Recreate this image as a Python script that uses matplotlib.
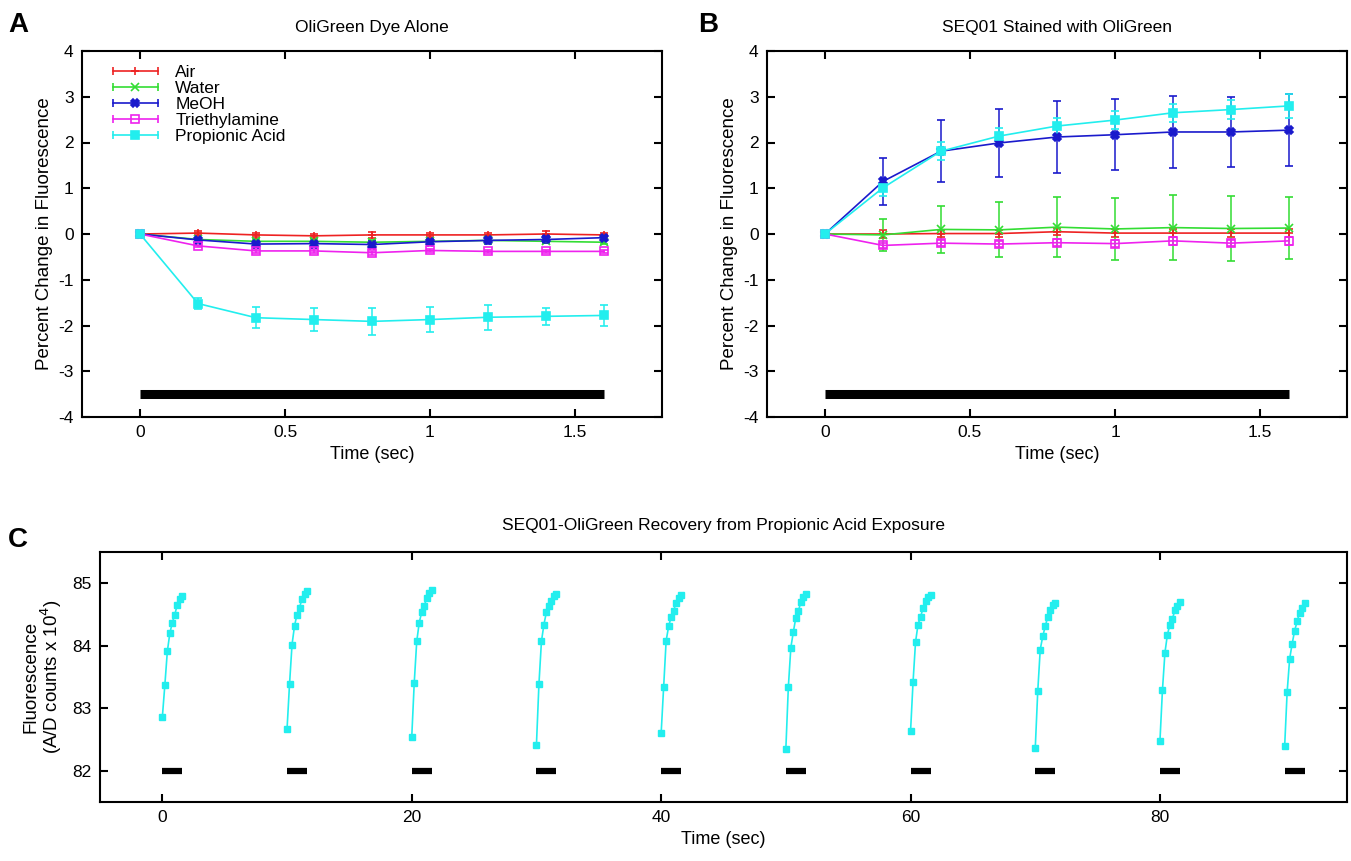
import numpy as np
import matplotlib
matplotlib.use("Agg")
import matplotlib.pyplot as plt
from matplotlib.lines import Line2D
from matplotlib.legend_handler import HandlerLine2D, HandlerTuple

plt.rcParams["font.family"] = ["Liberation Sans", "DejaVu Sans"]
plt.rcParams["font.size"] = 12
plt.rcParams["axes.unicode_minus"] = False

# time points for one exposure (sec)
time = [0.0, 0.2, 0.4, 0.6, 0.8, 1.0, 1.2, 1.4, 1.6]
names = ["Air", "Water", "MeOH", "Triethylamine", "Propionic Acid"]
colors = ["#ee2222", "#33dd33", "#1a1acc", "#ee22ee", "#22eeee"]
markers = ["+", "x", "X", "s", "s"]
filled = [True, True, True, False, True]

# panel A: dye alone
a_air = [0, 0.02, -0.02, -0.04, -0.02, -0.02, -0.02, 0.0, -0.02]
a_water = [0, -0.12, -0.16, -0.16, -0.18, -0.16, -0.14, -0.16, -0.18]
a_meoh = [0, -0.13, -0.22, -0.21, -0.23, -0.17, -0.14, -0.12, -0.08]
a_tea = [0, -0.26, -0.37, -0.37, -0.41, -0.36, -0.38, -0.38, -0.38]
a_prop = [0, -1.52, -1.83, -1.87, -1.91, -1.87, -1.82, -1.80, -1.78]
a_air_err = [0, 0.04, 0.05, 0.05, 0.06, 0.05, 0.05, 0.07, 0.05]
a_water_err = [0, 0.03, 0.04, 0.04, 0.04, 0.04, 0.04, 0.04, 0.04]
a_meoh_err = [0, 0.05, 0.06, 0.06, 0.07, 0.07, 0.07, 0.07, 0.06]
a_tea_err = [0, 0.03, 0.04, 0.04, 0.04, 0.04, 0.03, 0.03, 0.03]
a_prop_err = [0, 0.12, 0.23, 0.25, 0.29, 0.27, 0.27, 0.19, 0.22]

# panel B: SEQ01 stained
b_air = [0, 0.0, 0.01, 0.01, 0.05, 0.02, 0.02, 0.02, 0.02]
b_water = [0, -0.02, 0.10, 0.09, 0.15, 0.11, 0.14, 0.12, 0.13]
b_meoh = [0, 1.15, 1.81, 1.99, 2.12, 2.17, 2.23, 2.23, 2.27]
b_tea = [0, -0.25, -0.20, -0.22, -0.19, -0.21, -0.15, -0.20, -0.15]
b_prop = [0, 1.01, 1.81, 2.14, 2.36, 2.49, 2.65, 2.72, 2.80]
b_air_err = [0, 0.08, 0.08, 0.08, 0.08, 0.08, 0.08, 0.08, 0.08]
b_water_err = [0, 0.35, 0.52, 0.60, 0.65, 0.67, 0.71, 0.70, 0.67]
b_meoh_err = [0, 0.51, 0.68, 0.74, 0.78, 0.78, 0.79, 0.77, 0.79]
b_tea_err = [0, 0.06, 0.07, 0.07, 0.07, 0.07, 0.08, 0.07, 0.08]
b_prop_err = [0, 0.18, 0.20, 0.18, 0.18, 0.20, 0.20, 0.20, 0.27]

stim_ab = [0.0, 1.6]
stim_ab_y = -3.5

# panel C: recovery, 10 exposures
onsets = [0, 10, 20, 30, 40, 50, 60, 70, 80, 90]
stim_len = 1.6
stim_c_y = 82
c_runs = [
    [82.86, 83.37, 83.91, 84.20, 84.37, 84.50, 84.66, 84.75, 84.80],
    [82.67, 83.39, 84.02, 84.32, 84.50, 84.61, 84.75, 84.83, 84.88],
    [82.54, 83.41, 84.07, 84.37, 84.54, 84.63, 84.77, 84.85, 84.90],
    [82.42, 83.39, 84.07, 84.34, 84.54, 84.63, 84.72, 84.79, 84.83],
    [82.60, 83.34, 84.08, 84.31, 84.46, 84.56, 84.69, 84.77, 84.81],
    [82.35, 83.34, 83.97, 84.22, 84.45, 84.55, 84.70, 84.78, 84.83],
    [82.63, 83.42, 84.06, 84.34, 84.46, 84.60, 84.71, 84.78, 84.81],
    [82.36, 83.27, 83.94, 84.15, 84.31, 84.46, 84.58, 84.65, 84.69],
    [82.48, 83.29, 83.89, 84.18, 84.34, 84.43, 84.57, 84.64, 84.70],
    [82.39, 83.26, 83.79, 84.03, 84.24, 84.39, 84.53, 84.61, 84.68],
]

W, H = 1351, 861
fig = plt.figure(figsize=(W / 100, H / 100), dpi=100)


def box(l, r, t, b):
    return [l / W, 1 - b / H, (r - l) / W, (b - t) / H]


def style(ax):
    for s in ax.spines.values():
        s.set_linewidth(1.5)
    ax.tick_params(direction="in", length=6, width=1.5, top=True, right=True,
                   labelsize=12.5, pad=6)


def panel_ab(ax, series, errs, title):
    for i in range(5):
        mfc = colors[i] if filled[i] else "none"
        ax.errorbar(time, series[i], yerr=errs[i], color=colors[i], lw=1.2,
                    marker=markers[i], ms=5.5, mfc=mfc, mec=colors[i], mew=1.2,
                    capsize=3, elinewidth=1.1, capthick=1.1)
    ax.plot(stim_ab, [stim_ab_y, stim_ab_y], color="black", lw=6.5,
            solid_capstyle="butt")
    ax.set_xlim(-0.2, 1.8)
    ax.set_ylim(-4, 4)
    ax.set_xticks([0, 0.5, 1, 1.5])
    ax.set_xticklabels(["0", "0.5", "1", "1.5"])
    ax.set_yticks(range(-4, 5))
    ax.set_xlabel("Time (sec)", fontsize=13, labelpad=4)
    ax.set_ylabel("Percent Change in Fluorescence", fontsize=13.5, labelpad=4)
    ax.set_title(title, fontsize=12.5, pad=14)
    style(ax)


axA = fig.add_axes(box(82, 662, 51, 417))
panel_ab(axA, [a_air, a_water, a_meoh, a_tea, a_prop],
         [a_air_err, a_water_err, a_meoh_err, a_tea_err, a_prop_err],
         "OliGreen Dye Alone")

# legend entries drawn like horizontal error bars
handles = []
hmap = {}
for i in range(5):
    cap = Line2D([], [], color=colors[i], lw=1.2, marker="|", ms=6, mew=1.2)
    mk = Line2D([], [], ls="none", color=colors[i], marker=markers[i], ms=5.5,
                mfc=colors[i] if filled[i] else "none", mec=colors[i], mew=1.2)
    hmap[cap] = HandlerLine2D(numpoints=2)
    hmap[mk] = HandlerLine2D(numpoints=1)
    handles.append((cap, mk))
hmap[tuple] = HandlerTuple(ndivide=1, pad=0)
axA.legend(handles, names, handler_map=hmap, loc="upper left", frameon=False,
           fontsize=12.5, handlelength=3.2, handletextpad=0.7,
           labelspacing=0.05, borderaxespad=0.4, bbox_to_anchor=(0.02, 1.0))

axB = fig.add_axes(box(767, 1347, 51, 417))
panel_ab(axB, [b_air, b_water, b_meoh, b_tea, b_prop],
         [b_air_err, b_water_err, b_meoh_err, b_tea_err, b_prop_err],
         "SEQ01 Stained with OliGreen")

axC = fig.add_axes(box(100, 1347, 552, 802))
for t0, run in zip(onsets, c_runs):
    axC.plot([t0 + t for t in time], run, color=colors[4], lw=1.2,
             marker="s", ms=5)
    axC.plot([t0, t0 + stim_len], [stim_c_y, stim_c_y], color="black", lw=4.5,
             solid_capstyle="butt")
axC.set_xlim(-5, 95)
axC.set_ylim(81.5, 85.5)
axC.set_xticks([0, 20, 40, 60, 80])
axC.set_yticks([82, 83, 84, 85])
axC.set_xlabel("Time (sec)", fontsize=13, labelpad=4)
axC.set_ylabel("Fluorescence\n(A/D counts x 10$^4$)", fontsize=13.5,
               labelpad=6, linespacing=0.95)
axC.set_title("SEQ01-OliGreen Recovery from Propionic Acid Exposure",
              fontsize=12.5, pad=16)
style(axC)

for lbl, x, y in [("A", 8, 12), ("B", 698, 12), ("C", 8, 527)]:
    fig.text(x / W, 1 - y / H, lbl, fontsize=20, fontweight="bold",
             va="top", ha="left")

fig.savefig("out.png", dpi=100)
